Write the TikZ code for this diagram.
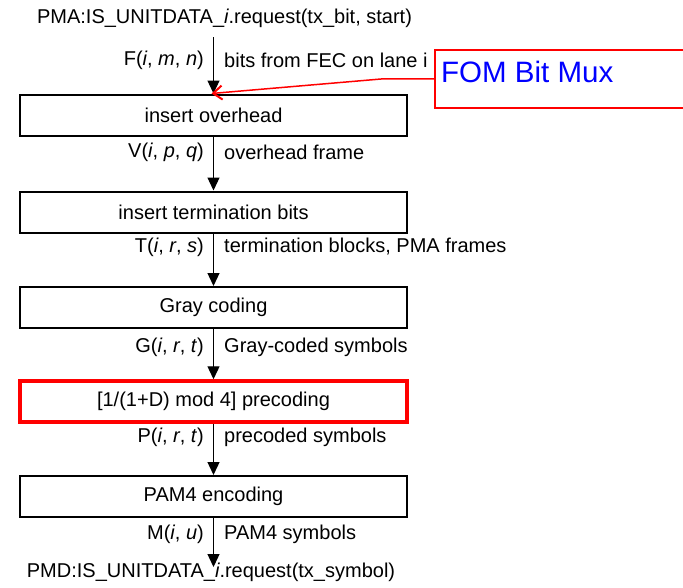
\documentclass[tikz,border=0pt]{standalone}
\usepackage{fontspec}
\setmainfont{Liberation Sans}
\usetikzlibrary{positioning,arrows.meta}

\begin{document}
\begin{tikzpicture}[x=1pt,y=-1pt,
    blk/.style={draw, line width=2pt, minimum width=387pt, minimum height=41pt,
        inner sep=0pt, font=\fontsize{20}{24}\selectfont},
    hot/.style={blk, draw=red, line width=3.5pt},
    flow/.style={-{Triangle[width=12pt,length=13pt]}, line width=1.3pt},
    lbl/.style={inner sep=0pt, font=\fontsize{20}{24}\selectfont},
    callout/.style={draw=red, line width=1.5pt}]
    \clip (0,0) rectangle (683,587);

    % Service primitives
    \node[lbl] (pma) at (224.5,18) {PMA:IS\_UNITDATA\_\textit{i}.request(tx\_bit, start)};
    \node[lbl] (pmd) at (211,572) {PMD:IS\_UNITDATA\_\textit{i}.request(tx\_symbol)};
    \coordinate (in) at (213.5,37);
    \coordinate (out) at (213.5,567);

    % Processing stages
    \node[blk] (ovh) at (213.5,115) {insert overhead};
    \node[blk] (term) at (213.5,212) {insert termination bits};
    \node[blk] (gray) at (213.5,307.5) {Gray coding};
    \node[hot] (prec) at (213.5,401.5) {[1/(1+D) mod 4] precoding};
    \node[blk] (pam) at (213.5,496.5) {PAM4 encoding};

    % Data flow
    \draw[flow] (in) -- (ovh);
    \draw[flow] (ovh) -- (term);
    \draw[flow] (term) -- (gray);
    \draw[flow] (gray) -- (prec);
    \draw[flow] (prec) -- (pam);
    \draw[flow] (pam) -- (out);

    % Signal names
    \node[lbl, anchor=east] (fL) at (204,60) {F(\textit{i}, \textit{m}, \textit{n})};
    \node[lbl, anchor=west] (fR) at (224,60) {bits from FEC on lane i};
    \node[lbl, anchor=east] (vL) at (204,152) {V(\textit{i}, \textit{p}, \textit{q})};
    \node[lbl, anchor=west] (vR) at (224,152) {overhead frame};
    \node[lbl, anchor=east] (tL) at (204,247) {T(\textit{i}, \textit{r}, \textit{s})};
    \node[lbl, anchor=west] (tR) at (224,247) {termination blocks, PMA frames};
    \node[lbl, anchor=east] (gL) at (204,347) {G(\textit{i}, \textit{r}, \textit{t})};
    \node[lbl, anchor=west] (gR) at (224,347) {Gray-coded symbols};
    \node[lbl, anchor=east] (pL) at (204,437) {P(\textit{i}, \textit{r}, \textit{t})};
    \node[lbl, anchor=west] (pR) at (224,437) {precoded symbols};
    \node[lbl, anchor=east] (mL) at (204,534) {M(\textit{i}, \textit{u})};
    \node[lbl, anchor=west] (mR) at (224,534) {PAM4 symbols};

    % Callout
    \node[callout, minimum width=280pt, minimum height=58pt, inner sep=0pt,
        anchor=north west] (fombox) at (434,49) {};
    \node[anchor=base west, inner sep=0pt, text=blue,
        font=\fontsize{29.5}{34}\selectfont] (fom) at (441,82) {FOM Bit Mux};
    \draw[callout, -{Straight Barb[length=9pt,width=14pt,line width=2pt]}]
        (fombox.west) -- ++(-50,0) -- ([xshift=-2pt]ovh.north);
\end{tikzpicture}
\end{document}
